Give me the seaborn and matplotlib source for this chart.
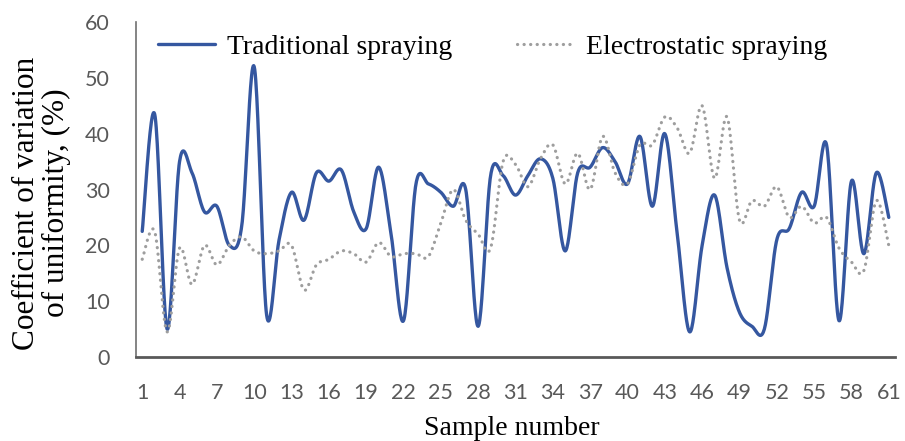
import numpy as np
import pandas as pd
import matplotlib
matplotlib.use("Agg")
import matplotlib.pyplot as plt
import seaborn as sns

samples = list(range(1, 62))
traditional = [22.5, 43.5, 5, 35, 33, 26, 27, 20, 23.5, 52,
               7.5, 21, 29.5, 24.5, 33, 31.5, 33.5, 26, 23, 34,
               22, 6.5, 31, 31, 29.5, 27, 30, 5.5, 32.5, 32.5,
               29, 32.5, 35.5, 32, 19, 33, 34, 37.5, 35, 31,
               39.5, 27, 40, 22, 4.5, 20, 29, 16, 8, 5.5,
               5, 21, 23, 29.5, 27, 38, 6.5, 31.5, 18.5, 33, 25]
electrostatic = [17.5, 22.5, 4.5, 19.5, 13, 20, 16.5, 20, 21.5, 19,
                 18.5, 19, 20, 12, 16.5, 17.5, 19, 18.5, 17, 20.5,
                 18, 18.5, 18.5, 18, 24, 30, 24.5, 22, 19.5, 35,
                 34.5, 30.5, 35.5, 38, 31, 36.5, 30, 39.5, 33, 31,
                 38, 38, 43, 41, 36.5, 45, 32, 43, 24.5, 28,
                 27, 30.5, 25, 27, 24, 25, 19.5, 17, 15.5, 28, 20]
xticks = list(range(1, 62, 3))
yticks = [0, 10, 20, 30, 40, 50, 60]
series_names = ["Traditional spraying", "Electrostatic spraying"]


def smooth(xs, ys, steps=24):
    """Catmull-Rom curve through the points (Excel-like smoothed line)."""
    x = np.asarray(xs, float)
    y = np.asarray(ys, float)
    px = np.concatenate([[x[0]], x, [x[-1]]])
    py = np.concatenate([[y[0]], y, [y[-1]]])
    ox, oy = [], []
    t = np.linspace(0, 1, steps, endpoint=False)
    for i in range(1, len(px) - 2):
        for arr, out in ((px, ox), (py, oy)):
            p0, p1, p2, p3 = arr[i - 1], arr[i], arr[i + 1], arr[i + 2]
            out.extend(0.5 * ((2 * p1) + (-p0 + p2) * t
                              + (2 * p0 - 5 * p1 + 4 * p2 - p3) * t ** 2
                              + (-p0 + 3 * p1 - 3 * p2 + p3) * t ** 3))
    ox.append(x[-1])
    oy.append(y[-1])
    return np.array(ox), np.array(oy)


sns.set_theme(style="white")
plt.rcParams["font.family"] = ["Liberation Serif", "DejaVu Serif"]

fig = plt.figure(figsize=(9.05, 4.41), dpi=100)
ax = fig.add_axes([136 / 905, 1 - 357 / 441, (895 - 136) / 905, (357 - 22) / 441])

tx, ty = smooth(samples, traditional)
ex, ey = smooth(samples, electrostatic)
df_t = pd.DataFrame({"x": tx, "y": ty})
df_e = pd.DataFrame({"x": ex, "y": ey})

sns.lineplot(data=df_t, x="x", y="y", ax=ax, color="#3557A0", lw=2.4,
             sort=False, estimator=None, label=series_names[0])
sns.lineplot(data=df_e, x="x", y="y", ax=ax, color="#9E9E9E", lw=2.3,
             sort=False, estimator=None, label=series_names[1],
             linestyle=(0, (0.05, 2.0)), dash_capstyle="round")

ax.set_xlim(0.5, 61.5)
ax.set_ylim(0, 60)
ax.set_xticks(xticks)
ax.set_yticks(yticks)
ax.tick_params(axis="both", length=0, labelsize=15.5, labelcolor="#595959")
ax.tick_params(axis="x", pad=19)
ax.tick_params(axis="y", pad=19)
for lab in ax.get_xticklabels() + ax.get_yticklabels():
    lab.set_fontfamily(["Lato", "DejaVu Sans"])

sns.despine(ax=ax, top=True, right=True)
ax.spines["left"].set_color("#6f6f6f")
ax.spines["left"].set_linewidth(1.2)
ax.spines["bottom"].set_color("#595959")
ax.spines["bottom"].set_linewidth(2.0)

ax.set_xlabel("Sample number", fontsize=20, color="black")
ax.xaxis.label.set_va("center")
ax.xaxis.set_label_coords(0.495, -0.212)
ax.set_ylabel("Coefficient of variation\nof uniformity, (%)", fontsize=22.5,
              color="black", linespacing=1.05)
ax.yaxis.label.set_va("center")
ax.yaxis.set_label_coords(-0.124, 0.46)

leg = ax.legend(loc="upper left", bbox_to_anchor=(0.029, 0.964), ncol=2,
                frameon=False, fontsize=20, handlelength=2.05,
                handletextpad=0.45, columnspacing=2.3, borderpad=0,
                borderaxespad=0)
for t in leg.get_texts():
    t.set_color("black")

fig.savefig("out.png", dpi=100)
